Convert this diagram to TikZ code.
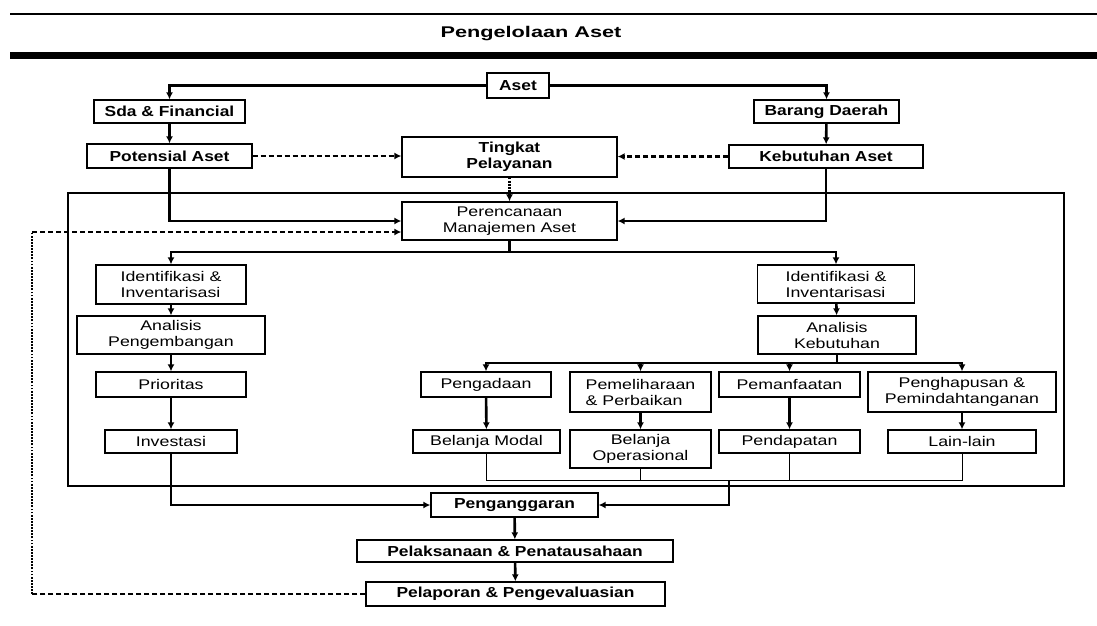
\documentclass[tikz,border=0pt]{standalone}
\usepackage{fontspec}
\setmainfont[FakeStretch=1.27]{Liberation Sans}
\newfontfamily\boldfont[FakeStretch=1.2]{Liberation Sans Bold}
\newfontfamily\titlefont[FakeStretch=1.4]{Liberation Sans Bold}
\usetikzlibrary{arrows.meta,positioning}
\tikzset{%
    >={Latex[length=7pt,width=7pt]},
    box/.style={draw,line width=1.3pt,inner sep=1pt,align=center,font=\fontsize{14}{16}\selectfont},
    bbox/.style={box,font=\boldfont\fontsize{14.5}{16}\selectfont},
    sz/.style 2 args={minimum width=#1,minimum height=#2},
    flow/.style={line width=2.6pt},
    dsh/.style={line width=2.2pt,dash pattern=on 5pt off 3pt},
    dtt/.style={line width=2.4pt,dash pattern=on 1.8pt off 1.3pt},
    thn/.style={line width=1pt}
}

\begin{document}
\begin{tikzpicture}[x=1pt,y=-1pt]
            \useasboundingbox (0,0) rectangle (1097,625);
            %%%%% header
            \draw[line width=2.2pt] (10,14) -- (1097,14);
            \draw[line width=7.5pt] (10,55.5) -- (1097,55.5);
            \node (title) at (531,34) {\titlefont\fontsize{15.5}{17}\selectfont Pengelolaan Aset};
            \draw[line width=1.3pt] (68,193) rectangle (1064,486);
            %%%%% nodes
            \node [bbox,sz={62}{25}] (aset) at (518,85.5) {Aset};
            \node [bbox,sz={151}{23}] (sda) at (169.5,111.5) {Sda \& Financial};
            \node [bbox,sz={145}{23}] (barang) at (826.5,111.5) {Barang Daerah};
            \node [bbox,sz={165}{24}] (potensial) at (169.5,156) {Potensial Aset};
            \node [bbox,sz={215}{40}] (tingkat) at (509.5,157) {Tingkat\\Pelayanan};
            \node [bbox,sz={194}{23}] (kebutuhan) at (826,156.5) {Kebutuhan Aset};
            \node [box,sz={215}{38}] (rencana) at (509.5,221) {Perencanaan\\Manajemen Aset};
            \node [box,sz={150}{39},align=left] (ident-1) at (171,284.5) {Identifikasi \&\\Inventarisasi};
            \node [box,sz={188}{38}] (analisis-1) at (171,335) {Analisis\\Pengembangan};
            \node [box,sz={150}{25}] (prioritas) at (171,384.5) {Prioritas};
            \node [box,sz={132}{23}] (investasi) at (171,441.5) {Investasi};
            \node [box,sz={157}{38},align=left] (ident-2) at (836,284) {Identifikasi \&\\Inventarisasi};
            \node [box,sz={158}{38}] (analisis-2) at (837,335) {Analisis\\Kebutuhan};
            \node [box,sz={130}{25}] (adaan) at (486,384.5) {Pengadaan};
            \node [box,sz={141}{40},align=left] (pelihara) at (640.5,392) {Pemeliharaan\\\& Perbaikan};
            \node [box,sz={141}{25}] (manfaat) at (789.5,384.5) {Pemanfaatan};
            \node [box,sz={188}{40}] (hapus) at (962,392) {Penghapusan \&\\Pemindahtanganan};
            \node [box,sz={147}{23}] (modal) at (486.5,441.5) {Belanja Modal};
            \node [box,sz={141}{38}] (operasional) at (640.5,449) {Belanja\\Operasional};
            \node [box,sz={141}{23}] (pendapatan) at (789.5,441.5) {Pendapatan};
            \node [box,sz={148}{23}] (lain) at (962,441.5) {Lain-lain};
            \node [bbox,sz={167}{24}] (anggaran) at (514.5,505) {Penganggaran};
            \node [bbox,sz={316}{22}] (laksana) at (515,551) {Pelaksanaan \& Penatausahaan};
            \node [bbox,sz={299}{24}] (lapor) at (515.5,594) {Pelaporan \& Pengevaluasian};
            \coordinate (br-1) at (509.5,252);
            \coordinate (br-2) at (837,363);
            \coordinate (sum) at (729,480);
            \coordinate (fb-1) at (32,594);
            \coordinate (fb-2) at (32,232);
            %%%%% connectors
            \draw[flow,->] (aset.west) -| (sda.north);
            \draw[flow,->] (aset.east) -| (barang.north);
            \draw[flow,->] (sda) -- (potensial);
            \draw[flow,->] (barang) -- (kebutuhan);
            \draw[dsh,->] (potensial.east) -- (potensial.east -| tingkat.west);
            \draw[dsh,->] (kebutuhan.west) -- (kebutuhan.west -| tingkat.east);
            \draw[dtt,->] (tingkat) -- (rencana);
            \draw[flow,->] (potensial.south) |- (rencana.west);
            \draw[flow,->] (kebutuhan.south) |- (rencana.east);
            \draw[dsh] (lapor.west) -- (fb-1);
            \draw[dtt] (fb-1) -- (fb-2);
            \draw[dsh,->] (fb-2) -- (fb-2 -| rencana.west);
            \draw[flow] (rencana) -- (br-1);
            \draw[flow,->] (br-1) -| (ident-1.north);
            \draw[flow,->] (br-1) -| (ident-2.north);
            \draw[flow,->] (ident-1) -- (analisis-1);
            \draw[flow,->] (analisis-1) -- (prioritas);
            \draw[flow,->] (prioritas) -- (investasi);
            \draw[flow,->] (ident-2) -- (analisis-2);
            \draw[flow] (analisis-2) -- (br-2);
            \foreach \n in {adaan,pelihara,manfaat,hapus}
                \draw[flow,->] (br-2) -| (\n.north);
            \draw[flow,->] (adaan) -- (modal);
            \draw[flow,->] (pelihara) -- (operasional);
            \draw[flow,->] (manfaat) -- (pendapatan);
            \draw[flow,->] (hapus) -- (lain);
            \draw[thn] (modal.south) |- (sum) -| (lain.south);
            \draw[thn] (operasional.south) -- (operasional.south |- sum);
            \draw[thn] (pendapatan.south) -- (pendapatan.south |- sum);
            \draw[flow,->] (sum) |- (anggaran.east);
            \draw[flow,->] (investasi.south) |- (anggaran.west);
            \draw[flow,->] (anggaran) -- (laksana);
            \draw[flow,->] (laksana) -- (lapor);
\end{tikzpicture}
\end{document}
